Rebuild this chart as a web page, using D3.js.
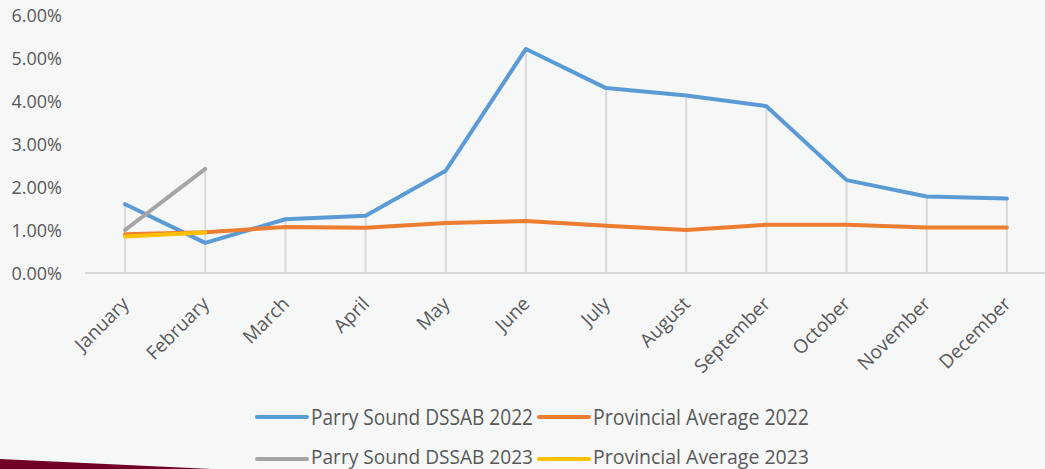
<!DOCTYPE html>
<html><head><meta charset="utf-8">
<script src="https://cdn.jsdelivr.net/npm/d3@7"></script>
<style>
html,body{margin:0;padding:0;background:#f6f7f7;}
svg{display:block;font-family:"Open Sans",sans-serif;}
</style></head>
<body>
<svg id="c" width="1045" height="469"></svg>
<script>
const months = ["January","February","March","April","May","June","July","August","September","October","November","December"];
const parry2022 = [1.60,0.70,1.25,1.33,2.38,5.21,4.30,4.13,3.88,2.16,1.78,1.73];
const prov2022  = [0.90,0.95,1.07,1.05,1.16,1.21,1.10,1.00,1.12,1.12,1.06,1.06];
const parry2023 = [1.00,2.42];
const prov2023  = [0.85,0.94];
const yTicks = [0,1,2,3,4,5,6];
const seriesNames = ["Parry Sound DSSAB 2022","Provincial Average 2022","Parry Sound DSSAB 2023","Provincial Average 2023"];
const seriesColors = ["#5b9bd5","#ed7d31","#a5a5a5","#ffc000"];

const svg = d3.select("#c");
const x = d3.scaleBand().domain(months).range([85,1047]);
const y = d3.scaleLinear().domain([0,6]).range([273,15]);
const cx = m => x(m) + x.bandwidth()/2;
const textCol = "#595959";

// background accent
svg.append("path").attr("d","M0,459 L212,469 L0,469 Z").attr("fill","#720029");

// drop lines
const allSeries = [parry2022, prov2022, parry2023, prov2023];
svg.append("g").selectAll("line").data(months).join("line")
  .attr("x1",cx).attr("x2",cx)
  .attr("y1",(m,i)=>y(d3.max(allSeries, s => s[i] === undefined ? -Infinity : s[i])))
  .attr("y2",y(0))
  .attr("stroke","#d9d9d9").attr("stroke-width",2);

// x axis line
svg.append("line").attr("x1",85).attr("x2",1047).attr("y1",y(0)).attr("y2",y(0))
  .attr("stroke","#d9d9d9").attr("stroke-width",2);

// y axis labels
svg.append("g").selectAll("text").data(yTicks).join("text")
  .attr("x",62).attr("y",d=>y(d)+1).attr("dy","0.36em")
  .attr("text-anchor","end").attr("fill",textCol).attr("font-size",18)
  .text(d=>d.toFixed(2)+"%");

// x labels
svg.append("g").selectAll("text").data(months).join("text")
  .attr("text-anchor","end").attr("fill",textCol).attr("font-size",19)
  .attr("transform",m=>`translate(${cx(m)+5},${305}) rotate(-45)`)
  .text(m=>m);

// lines
const line = d3.line().x((d,i)=>cx(months[i])).y(d=>y(d));
allSeries.forEach((s,k)=>{
  svg.append("path").attr("d",line(s)).attr("fill","none")
    .attr("stroke",seriesColors[k]).attr("stroke-width",4)
    .attr("stroke-linejoin","round").attr("stroke-linecap","round");
});

// legend
const legPos = [[257,417],[539,417],[257,459],[539,459]];
const legWidths = [222,216,222,216];
seriesNames.forEach((n,k)=>{
  const [lx,ly] = legPos[k];
  const row2 = k >= 2;
  svg.append("line").attr("x1",lx).attr("x2",lx+50).attr("y1",ly).attr("y2",ly)
    .attr("stroke",seriesColors[k]).attr("stroke-width",4).attr("stroke-linecap","round");
  svg.append("text").attr("x",lx+54).attr("y",row2 ? 464 : ly+7.5)
    .attr("fill",textCol).attr("font-size",row2 ? 20 : 21)
    .attr("textLength",legWidths[k]).attr("lengthAdjust","spacingAndGlyphs")
    .text(n);
});
</script>
</body></html>
